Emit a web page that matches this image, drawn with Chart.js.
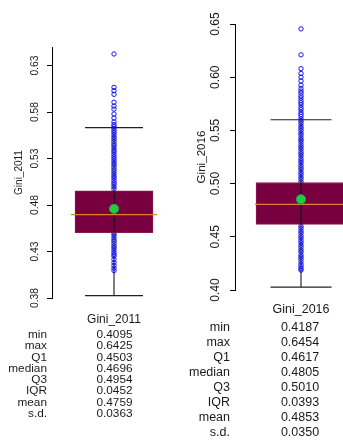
<!DOCTYPE html>
<html>
<head>
<meta charset="utf-8">
<script src="https://cdn.jsdelivr.net/npm/chart.js@4/dist/chart.umd.min.js"></script>
<style>
  html, body { margin: 0; padding: 0; background: #fff; }
  body { width: 343px; height: 441px; overflow: hidden; position: relative;
         font-family: "Liberation Sans", Arial, Helvetica, sans-serif; color: #1a1a1a; }
  .box { position: absolute; }
  .cell { position: absolute; white-space: nowrap; }
</style>
</head>
<body>
<div class="box" style="left:0px;top:0px;width:176px;height:346px;"><canvas id="gini2011"></canvas></div>
<div class="box" style="left:180px;top:0px;width:187px;height:336px;"><canvas id="gini2016"></canvas></div>
<div id="tables"></div>

<script>
// categories and summary stats (as printed under each plot)
var categories = ['Gini_2011', 'Gini_2016'];
var statLabels = ['min', 'max', 'Q1', 'median', 'Q3', 'IQR', 'mean', 's.d.'];
var stats2011 = ['0.4095', '0.6425', '0.4503', '0.4696', '0.4954', '0.0452', '0.4759', '0.0363'];
var stats2016 = ['0.4187', '0.6454', '0.4617', '0.4805', '0.5010', '0.0393', '0.4853', '0.0350'];

// box parts: [lower whisker, Q1, median, Q3, upper whisker], mean
var box2011 = [0.3825, 0.4503, 0.4696, 0.4954, 0.5632];
var box2016 = [0.4027, 0.4617, 0.4805, 0.5010, 0.5600];
var mean2011 = 0.4759;
var mean2016 = 0.4853;

// tick labels on the y axes
var ticks2011 = [0.38, 0.43, 0.48, 0.53, 0.58, 0.63];
var ticks2016 = [0.40, 0.45, 0.50, 0.55, 0.60, 0.65];

// observations drawn as open circles along the box
var pts2011 = [0.6425, 0.6066, 0.6030, 0.5991, 0.5906, 0.5864, 0.5832, 0.5779, 0.5736, 0.5694,
  0.5665, 0.5645, 0.5625, 0.5600, 0.5580, 0.5555, 0.5530, 0.5510, 0.5485, 0.5460,
  0.5440, 0.5415, 0.5390, 0.5370, 0.5345, 0.5320, 0.5300, 0.5275, 0.5250, 0.5230,
  0.5205, 0.5180, 0.5160, 0.5135, 0.5110, 0.5090, 0.5065, 0.5040, 0.5020, 0.4995,
  0.4970, 0.4900, 0.4850, 0.4800, 0.4750, 0.4700, 0.4650, 0.4600, 0.4550, 0.4500,
  0.4480, 0.4455, 0.4430, 0.4410, 0.4385, 0.4360, 0.4340, 0.4315, 0.4290, 0.4268,
  0.4250, 0.4215, 0.4180, 0.4150, 0.4120, 0.4095];
var pts2016 = [0.6454, 0.6210, 0.6080, 0.6035, 0.6000, 0.5965, 0.5925, 0.5895, 0.5870, 0.5850,
  0.5825, 0.5805, 0.5780, 0.5760, 0.5740, 0.5715, 0.5695, 0.5670, 0.5650, 0.5630,
  0.5605, 0.5585, 0.5565, 0.5540, 0.5520, 0.5500, 0.5475, 0.5455, 0.5430, 0.5410,
  0.5390, 0.5365, 0.5345, 0.5325, 0.5300, 0.5280, 0.5260, 0.5235, 0.5215, 0.5195,
  0.5170, 0.5150, 0.5130, 0.5105, 0.5085, 0.5060, 0.5040, 0.5015, 0.4950, 0.4900,
  0.4850, 0.4800, 0.4750, 0.4700, 0.4650, 0.4600, 0.4580, 0.4555, 0.4535, 0.4510,
  0.4490, 0.4465, 0.4445, 0.4420, 0.4400, 0.4375, 0.4357, 0.4330, 0.4310, 0.4290,
  0.4265, 0.4240, 0.4220, 0.4200, 0.4187];

Chart.defaults.font.family = '"Liberation Sans", Arial, Helvetica, sans-serif';
Chart.defaults.color = '#1a1a1a';

function at(cat, v) { return { x: cat, y: v }; }

function makeBox(canvasId, cat, box, mean, pts, ticks, opt) {
  var ctx = document.getElementById(canvasId).getContext('2d');
  return new Chart(ctx, {
    type: 'bar',
    data: {
      labels: [cat],
      datasets: [
        // whisker stem (under the points)
        { type: 'line', data: [at(cat, box[0]), at(cat, box[4])], borderColor: '#000', borderWidth: 1,
          pointRadius: 0, order: 9 },
        // data points
        { type: 'line', showLine: false, data: pts.map(function (v) { return at(cat, v); }),
          pointStyle: 'circle', pointRadius: 2.2, pointBorderWidth: 1,
          pointBorderColor: '#1616e8', pointBackgroundColor: 'rgba(0,0,0,0)', order: 8 },
        // box Q1..Q3
        { type: 'bar', data: [[box[1], box[3]]], backgroundColor: '#780040', borderColor: '#8a1a50',
          borderWidth: 1, borderSkipped: false, barThickness: opt.boxWidth, order: 7 },
        // stem inside the box
        { type: 'line', data: [at(cat, box[1]), at(cat, box[3])], borderColor: '#000', borderWidth: 1,
          pointRadius: 0, order: 6 },
        // whisker caps
        { type: 'line', showLine: false, data: [at(cat, box[0]), at(cat, box[4])],
          pointStyle: 'line', pointRadius: opt.capHalf, pointBorderWidth: 1.2, pointBorderColor: '#222', order: 5 },
        // median
        { type: 'line', showLine: false, data: [at(cat, box[2])],
          pointStyle: 'line', pointRadius: opt.medHalf, pointBorderWidth: 1.3, pointBorderColor: '#e0802a', order: 4 },
        // mean
        { type: 'line', showLine: false, data: [at(cat, mean)],
          pointStyle: 'circle', pointRadius: 4.6, pointBorderWidth: 1,
          pointBackgroundColor: '#22cc3a', pointBorderColor: '#2a9a6a', order: 3 }
      ]
    },
    options: {
      responsive: true,
      maintainAspectRatio: false,
      animation: false,
      events: [],
      layout: { autoPadding: false, padding: { top: opt.top, right: 0, bottom: 0, left: 0 } },
      plugins: { legend: { display: false }, tooltip: { enabled: false } },
      scales: {
        x: {
          type: 'category',
          grid: { display: false },
          border: { display: false },
          ticks: { padding: opt.xPad, font: { size: opt.xFont }, color: '#1a1a1a' },
          afterFit: function (s) { s.height = opt.xHeight; }
        },
        y: {
          type: 'linear',
          min: opt.min,
          max: opt.max,
          afterBuildTicks: function (s) { s.ticks = ticks.map(function (v) { return { value: v }; }); },
          afterFit: function (s) { s.width = opt.yWidth; },
          border: { display: true, color: '#000', width: 1 },
          grid: { drawOnChartArea: false, drawTicks: true, tickLength: 5, color: '#000' },
          ticks: {
            minRotation: 90, maxRotation: 90, crossAlign: 'center', padding: opt.tickPad,
            font: { size: opt.tickFont }, color: '#1a1a1a',
            callback: function (v) { return Number(v).toFixed(2); }
          },
          title: { display: true, text: cat, font: { size: opt.titleFont }, color: '#1a1a1a',
                   padding: { top: opt.titlePad, bottom: 0 } }
        }
      }
    }
  });
}

makeBox('gini2011', categories[0], box2011, mean2011, pts2011, ticks2011, {
  min: 0.38, max: 0.65, top: 47, yWidth: 52, xHeight: 48, xPad: 6, xFont: 12,
  tickPad: 2, tickFont: 10.3, titleFont: 10, titlePad: 13,
  boxWidth: 78, capHalf: 29, medHalf: 43
});
makeBox('gini2016', categories[1], box2016, mean2016, pts2016, ticks2016, {
  min: 0.40, max: 0.65, top: 24, yWidth: 55, xHeight: 46, xPad: 4, xFont: 12.5,
  tickPad: 3, tickFont: 12, titleFont: 11.6, titlePad: 15,
  boxWidth: 90, capHalf: 30.5, medHalf: 46
});

// stats tables under each plot
function makeTable(values, labelRight, valueCenter, firstY, step, size) {
  var host = document.getElementById('tables');
  for (var i = 0; i < statLabels.length; i++) {
    var y = firstY + i * step - size * 0.6;
    var l = document.createElement('div');
    l.className = 'cell';
    l.style.cssText = 'left:0px;width:' + labelRight + 'px;text-align:right;top:' + y + 'px;font-size:' + size + 'px;line-height:' + (size * 1.2) + 'px;';
    l.textContent = statLabels[i];
    host.appendChild(l);
    var v = document.createElement('div');
    v.className = 'cell';
    v.style.cssText = 'left:' + (valueCenter - 40) + 'px;width:80px;text-align:center;top:' + y + 'px;font-size:' + size + 'px;line-height:' + (size * 1.2) + 'px;';
    v.textContent = values[i];
    host.appendChild(v);
  }
}
makeTable(stats2011, 47, 114.5, 334, 11.3, 11.8);
makeTable(stats2016, 230, 300, 327, 15, 12.5);
</script>
</body>
</html>
